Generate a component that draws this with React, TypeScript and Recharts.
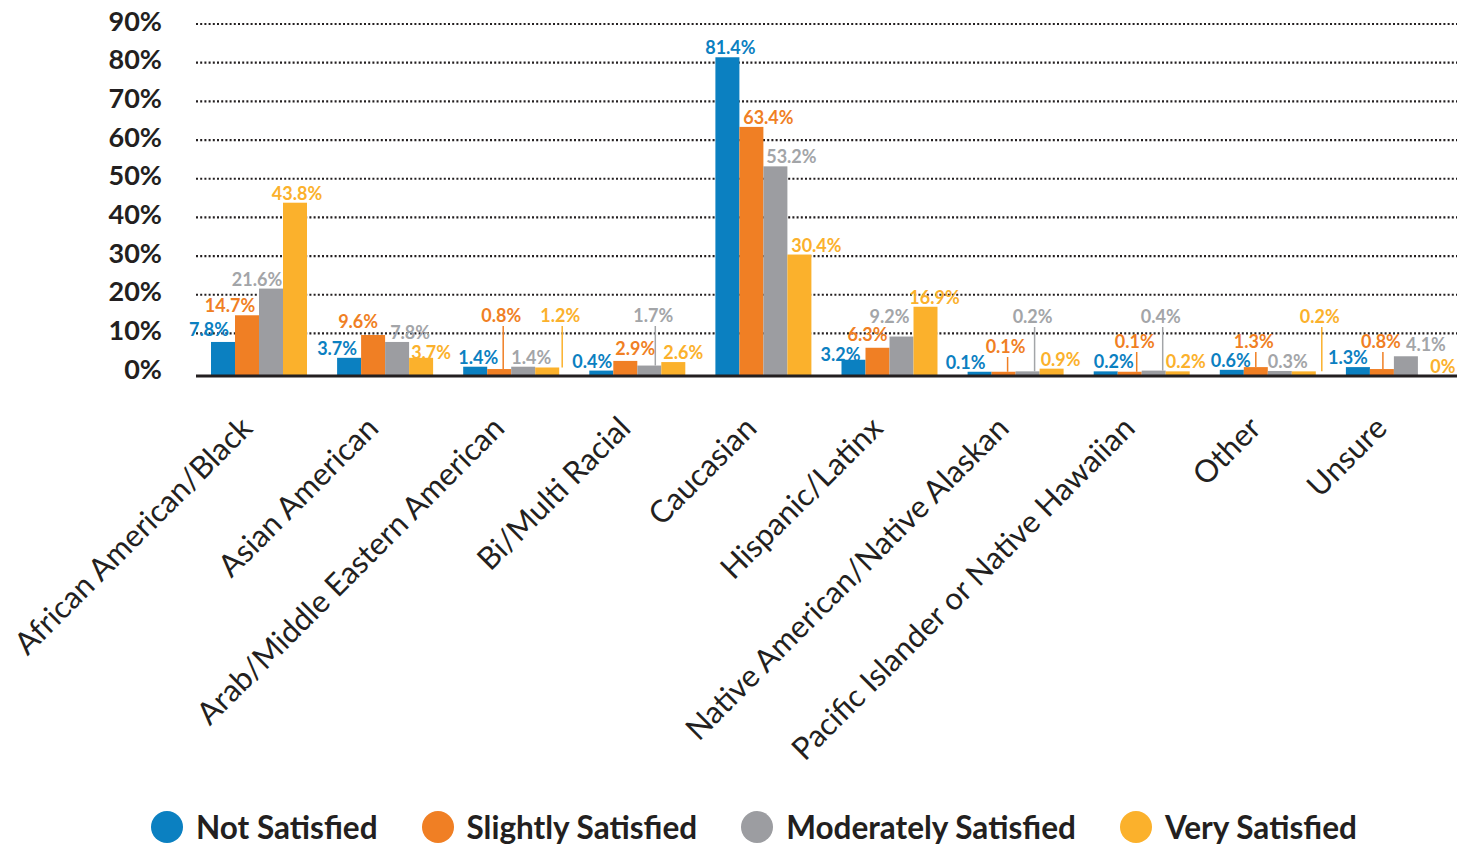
import { BarChart, Bar, XAxis, YAxis, CartesianGrid, Legend, LabelList } from "recharts";

const categories = [
	"African American/Black",
	"Asian American",
	"Arab/Middle Eastern American",
	"Bi/Multi Racial",
	"Caucasian",
	"Hispanic/Latinx",
	"Native American/Native Alaskan",
	"Pacific Islander or Native Hawaiian",
	"Other",
	"Unsure",
];
const notSatisfied = [7.8, 3.7, 1.4, 0.4, 81.4, 3.2, 0.1, 0.2, 0.6, 1.3];
const slightlySatisfied = [14.7, 9.6, 0.8, 2.9, 63.4, 6.3, 0.1, 0.1, 1.3, 0.8];
const moderatelySatisfied = [21.6, 7.8, 1.4, 1.7, 53.2, 9.2, 0.2, 0.4, 0.3, 4.1];
const verySatisfied = [43.8, 3.7, 1.2, 2.6, 30.4, 16.9, 0.9, 0.2, 0.2, 0];
const yTicks = [0, 10, 20, 30, 40, 50, 60, 70, 80, 90];
const seriesNames = ["Not Satisfied", "Slightly Satisfied", "Moderately Satisfied", "Very Satisfied"];
const seriesKeys = ["not", "slightly", "moderately", "very"];

const COLORS = ["#0b80c1", "#f07f24", "#9c9da1", "#fbb12c"];
const LABEL_COLORS = ["#0b80c1", "#f07f24", "#a3a5a8", "#fbb12c"];
const INK = "#231f20";
const FONT = "Lato, 'Open Sans', sans-serif";

const WIDTH = 1471;
const HEIGHT = 845;
const PLOT_TOP = 24;
const PLOT_BOTTOM = 376;

// label nudges (px, from bar centre) and lifted labels with leader lines (px above axis)
const LABEL_DX = [
	[-14, -17, -14, 2],
	[-12, -15, 13, 10],
	[3, 2, 8, 13],
	[-9, 10, 4, 10],
	[3, 17, 16, 17],
	[-13, -10, -12, 9],
	[-14, 2, 5, 9],
	[8, 5, 7, 8],
	[-1, -2, 8, 16],
	[-10, -1, 20, 13],
];
const LABEL_DY: Record<string, number> = {
	"0-0": -3,
	"1-1": -4,
	"1-3": 4,
	"3-1": -3,
	"5-0": 4,
	"5-1": -4,
	"5-2": -11,
	"9-2": -2,
	"9-3": 4,
};
const LIFTED: Record<string, number> = {
	"2-1": 54,
	"2-3": 54,
	"3-2": 54,
	"6-1": 23,
	"6-2": 53,
	"7-1": 28,
	"7-2": 53,
	"8-1": 28,
	"8-3": 53,
	"9-1": 28,
};

const data = categories.map((name, i) => ({
	name,
	not: notSatisfied[i],
	slightly: slightlySatisfied[i],
	moderately: moderatelySatisfied[i],
	very: verySatisfied[i],
}));

// bars run down to the axis rule, which sits a few px under the 0% line
const BarShape = (props: any) => {
	const { x, y, width, height, fill } = props;
	if (!(height > 0.01)) return null;
	return <rect x={x} y={y} width={width} height={PLOT_BOTTOM - 1 - y} fill={fill} />;
};

function makeLabel(si: number) {
	return (props: any) => {
		const { x, y, width, index, value } = props;
		const cx = Number(x) + Number(width) / 2 + LABEL_DX[index][si];
		const top = Number(y);
		const cell = `${index}-${si}`;
		const lift = LIFTED[cell];
		const baseline = lift ? PLOT_BOTTOM - lift : top - 3 + (LABEL_DY[cell] || 0);
		return (
			<g>
				{lift ? (
					<line
						x1={cx + 2}
						x2={cx + 2}
						y1={baseline + 4}
						y2={top}
						stroke={LABEL_COLORS[si]}
						strokeWidth={1.5}
					/>
				) : null}
				<text
					x={cx}
					y={baseline}
					textAnchor="middle"
					fontSize={18}
					fontWeight={700}
					fill={LABEL_COLORS[si]}
				>
					{`${value}%`}
				</text>
			</g>
		);
	};
}

const CategoryTick = (props: any) => {
	const { x, y, payload } = props;
	const ax = x - 5;
	const ay = y + 54;
	return (
		<text
			x={ax}
			y={ay}
			textAnchor="end"
			fontSize={31}
			fill={INK}
			transform={`rotate(-45, ${ax}, ${ay})`}
		>
			{payload.value}
		</text>
	);
};

const renderLegend = () => (
	<div
		style={{
			display: "flex",
			alignItems: "center",
			paddingLeft: 151,
			fontFamily: FONT,
			fontWeight: 700,
			fontSize: 31.5,
			color: INK,
		}}
	>
		{seriesNames.map((name, si) => (
			<div key={name} style={{ display: "flex", alignItems: "center", marginRight: 44 }}>
				<span
					style={{
						display: "inline-block",
						width: 32,
						height: 32,
						borderRadius: "50%",
						background: COLORS[si],
						marginRight: 13,
					}}
				/>
				{name}
			</div>
		))}
	</div>
);

export default function App() {
	return (
		<div style={{ position: "absolute", left: 0, top: 0, width: WIDTH, height: HEIGHT, background: "#fff" }}>
			<BarChart
				width={WIDTH}
				height={HEIGHT}
				data={data}
				margin={{ top: PLOT_TOP, right: 14, bottom: 0, left: 0 }}
				barCategoryGap={15}
				barGap={0}
				style={{ fontFamily: FONT }}
			>
				<CartesianGrid
					vertical={false}
					horizontalValues={yTicks.slice(1)}
					stroke={INK}
					strokeWidth={2.2}
					strokeDasharray="2 2.2"
				/>
				<XAxis
					dataKey="name"
					interval={0}
					height={HEIGHT - PLOT_BOTTOM}
					tickLine={false}
					tickSize={0}
					tickMargin={0}
					axisLine={{ stroke: INK, strokeWidth: 3 }}
					tick={<CategoryTick />}
				/>
				<YAxis
					domain={[-1, 90]}
					ticks={yTicks}
					width={196}
					axisLine={false}
					tickLine={false}
					tickSize={0}
					tickMargin={34}
					tickFormatter={(v: number) => `${v}%`}
					tick={{ fontSize: 27, fontWeight: 700, fill: INK, dy: -3 }}
				/>
				<Legend
					layout="horizontal"
					verticalAlign="middle"
					align="center"
					content={renderLegend}
					wrapperStyle={{ top: 808, left: 0, width: WIDTH }}
				/>
				{seriesKeys.map((key, si) => (
					<Bar
						key={key}
						dataKey={key}
						name={seriesNames[si]}
						fill={COLORS[si]}
						shape={BarShape}
						isAnimationActive={false}
					>
						<LabelList dataKey={key} content={makeLabel(si)} />
					</Bar>
				))}
			</BarChart>
		</div>
	);
}
